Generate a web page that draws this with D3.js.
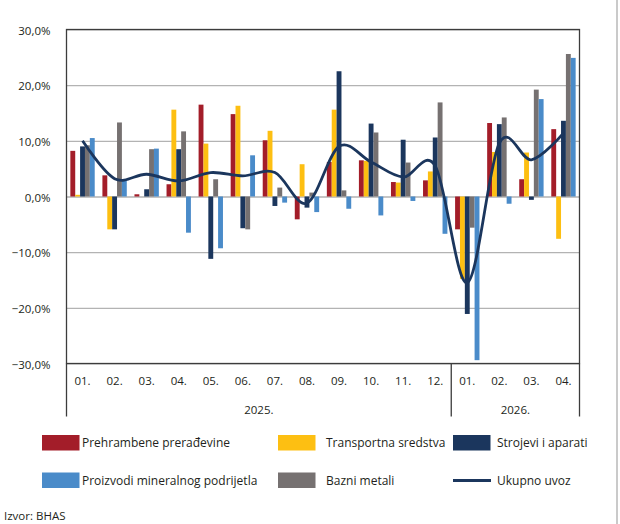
<!DOCTYPE html>
<head>
  <meta charset="utf-8">
  <script src="https://d3js.org/d3.v7.min.js"></script>
  <style>
    body { margin: 0; background: #fff; }
    text { font-family: "Open Sans", "Noto Sans", sans-serif; fill: #231f20; }
  </style>
</head>
<body>
  <div class="chart"></div>
  <script>
    var months = ["01.", "02.", "03.", "04.", "05.", "06.", "07.", "08.", "09.", "10.", "11.", "12.",
                  "01.", "02.", "03.", "04."];
    var yearLabels = ["2025.", "2026."];
    var yearSpans = [12, 4];
    var yTicks = [-30, -20, -10, 0, 10, 20, 30];

    var prehrambene = [8.2, 3.8, 0.4, 2.2, 16.5, 14.8, 10.1, -4.1, 6.2, 6.5, 2.6, 2.9, -5.9, 13.2, 3.1, 12.1];
    var transportna = [0.3, -5.9, 0, 15.6, 9.5, 16.3, 11.8, 5.8, 15.6, 6.4, 2.5, 4.5, -14.8, 8.0, 7.9, -7.6];
    var strojevi = [9.0, -5.9, 1.3, 8.5, -11.2, -5.7, -1.7, -2.0, 22.5, 13.1, 10.2, 10.6, -21.1, 13.0, -0.6, 13.6];
    var bazni = [9.2, 13.3, 8.5, 11.7, 3.1, -5.9, 1.6, 0.7, 1.1, 11.5, 6.1, 16.9, -5.6, 14.2, 19.2, 25.6];
    var mineralni = [10.5, 3.0, 8.6, -6.5, -9.3, 7.4, -1.1, -2.8, -2.2, -3.4, -0.8, -6.7, -29.4, -1.3, 17.5, 24.9];
    var ukupno = [10.0, 3.2, 4.0, 2.8, 4.3, 3.7, 4.3, -1.2, 9.0, 6.2, 3.5, 5.5, -15.5, 9.6, 6.6, 11.4];

  (function() {
    // bar order inside a month group
    var series = [
      { name: "Prehrambene prerađevine", values: prehrambene, color: "#a31d29" },
      { name: "Transportna sredstva", values: transportna, color: "#fdbf12" },
      { name: "Strojevi i aparati", values: strojevi, color: "#1b365d" },
      { name: "Bazni metali", values: bazni, color: "#767171" },
      { name: "Proizvodi mineralnog podrijetla", values: mineralni, color: "#4a8bc9" }
    ];
    var lineColor = "#1b365d";

    var width = 620, height = 524;
    var plotLeft = 66.5, plotRight = 579.5, plotTop = 29.5, plotBottom = 363.5;

    var svg = d3.select(".chart").append("svg")
      .attr("width", width)
      .attr("height", height);

    var x = d3.scaleBand()
      .domain(d3.range(months.length))
      .range([plotLeft, plotRight])
      .paddingInner(0.24)
      .paddingOuter(0.12);

    var xs = d3.scaleBand()
      .domain(d3.range(series.length))
      .range([0, x.bandwidth()]);

    var y = d3.scaleLinear().domain([-30, 30]).range([plotBottom, plotTop]);

    var locale = d3.formatLocale({ decimal: ",", thousands: ".", grouping: [3], currency: ["", ""] });
    var fmt = locale.format(".1f");

    // grid
    svg.append("g")
      .attr("transform", "translate(" + plotLeft + ",0)")
      .call(d3.axisLeft(y).tickValues(yTicks).tickSize(-(plotRight - plotLeft)).tickFormat(""))
      .call(function(g) {
        g.select(".domain").remove();
        g.selectAll(".tick line").attr("stroke", function(d) { return d === 0 ? "#8c8c8c" : "#b3b3b3"; })
          .attr("stroke-width", 1.2);
      });

    // bars
    var groups = svg.append("g").selectAll("g")
      .data(series)
      .enter().append("g")
      .attr("fill", function(d) { return d.color; });

    groups.selectAll("rect")
      .data(function(d, i) { return d.values.map(function(v, j) { return { v: v, j: j, s: i }; }); })
      .enter().append("rect")
      .attr("x", function(d) { return x(d.j) + xs(d.s); })
      .attr("width", xs.bandwidth())
      .attr("y", function(d) { return y(Math.max(0, d.v)); })
      .attr("height", function(d) { return Math.abs(y(d.v) - y(0)); });

    // total line
    var line = d3.line()
      .x(function(d, i) { return x(i) + x.bandwidth() / 2; })
      .y(function(d) { return y(d); })
      .curve(d3.curveCardinal.tension(0));

    svg.append("path")
      .datum(ukupno)
      .attr("d", line)
      .attr("fill", "none")
      .attr("stroke", lineColor)
      .attr("stroke-width", 2.8);

    // frame
    svg.append("rect")
      .attr("x", plotLeft).attr("y", plotTop)
      .attr("width", plotRight - plotLeft).attr("height", plotBottom - plotTop)
      .attr("fill", "none")
      .attr("stroke", "#3c3c3c")
      .attr("stroke-width", 1.3);

    // y labels
    svg.append("g")
      .attr("transform", "translate(" + (plotLeft - 13) + ",0)")
      .call(d3.axisLeft(y).tickValues(yTicks).tickSize(0).tickFormat(function(d) { return fmt(d) + "%"; }))
      .call(function(g) {
        g.select(".domain").remove();
        g.selectAll("text").attr("font-size", 11.5).attr("dy", "0.4em")
          .style("font-family", "'Open Sans', sans-serif").attr("fill", "#231f20");
      });

    // month labels
    svg.append("g")
      .attr("transform", "translate(0," + plotBottom + ")")
      .call(d3.axisBottom(x).tickSize(0).tickPadding(13).tickFormat(function(i) { return months[i]; }))
      .call(function(g) {
        g.select(".domain").remove();
        g.selectAll("text").attr("font-size", 11.5)
          .style("font-family", "'Open Sans', sans-serif").attr("fill", "#231f20");
      });

    // year separators and labels
    var start = plotLeft;
    var bounds = [plotLeft];
    yearSpans.forEach(function(n, k) {
      var end = start + n * (plotRight - plotLeft) / months.length;
      bounds.push(end);
      svg.append("text")
        .attr("x", (start + end) / 2)
        .attr("y", 414)
        .attr("text-anchor", "middle")
        .attr("font-size", 11.5)
        .text(yearLabels[k]);
      start = end;
    });
    svg.append("g").selectAll("line")
      .data(bounds)
      .enter().append("line")
      .attr("x1", function(d) { return d; })
      .attr("x2", function(d) { return d; })
      .attr("y1", plotBottom)
      .attr("y2", 416.5)
      .attr("stroke", "#3c3c3c")
      .attr("stroke-width", 1.3);

    // legend
    var legendItems = [
      { name: series[0].name, color: series[0].color, type: "bar", col: 0, row: 0 },
      { name: series[1].name, color: series[1].color, type: "bar", col: 1, row: 0 },
      { name: series[2].name, color: series[2].color, type: "bar", col: 2, row: 0 },
      { name: series[4].name, color: series[4].color, type: "bar", col: 0, row: 1 },
      { name: series[3].name, color: series[3].color, type: "bar", col: 1, row: 1 },
      { name: "Ukupno uvoz", color: lineColor, type: "line", col: 2, row: 1 }
    ];
    var colX = [42, 278, 453];
    var rowY = [435, 472.5];

    var legend = svg.append("g").selectAll("g")
      .data(legendItems)
      .enter().append("g")
      .attr("transform", function(d) { return "translate(" + colX[d.col] + "," + rowY[d.row] + ")"; });

    legend.filter(function(d) { return d.type === "bar"; })
      .append("rect")
      .attr("width", 37.5)
      .attr("height", 15.5)
      .attr("fill", function(d) { return d.color; });

    legend.filter(function(d) { return d.type === "line"; })
      .append("line")
      .attr("x1", 0).attr("x2", 38)
      .attr("y1", 8).attr("y2", 8)
      .attr("stroke", function(d) { return d.color; })
      .attr("stroke-width", 2.8);

    legend.append("text")
      .attr("x", function(d) { return d.col === 1 ? 48 : (d.col === 2 ? 44 : 40); })
      .attr("y", 12)
      .attr("font-size", 12)
      .text(function(d) { return d.name; });

    svg.append("text")
      .attr("x", 4)
      .attr("y", 520)
      .attr("font-size", 11.5)
      .text("Izvor: BHAS");

    svg.append("line")
      .attr("x1", 617).attr("x2", 617)
      .attr("y1", 0).attr("y2", height)
      .attr("stroke", "#b8b8b8")
      .attr("stroke-width", 1.5);
  })();
  </script>
</body>
